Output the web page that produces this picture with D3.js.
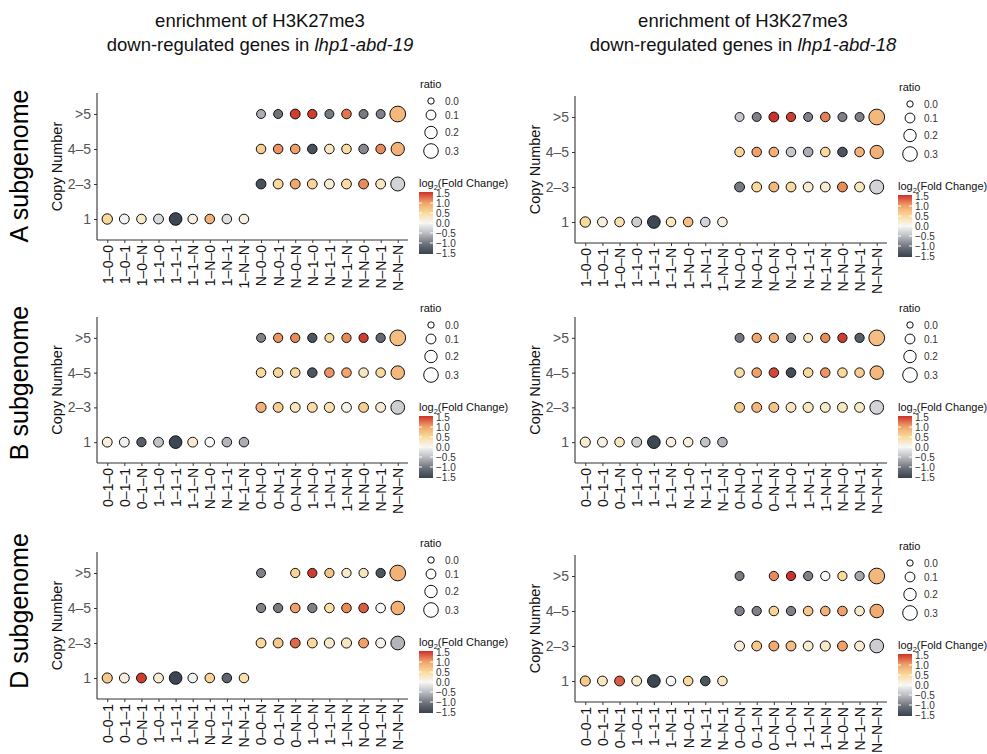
<!DOCTYPE html>
<html>
<head>
<meta charset="utf-8">
<script src="https://cdn.jsdelivr.net/npm/d3@7"></script>
<style>
  html, body { margin: 0; padding: 0; background: #fff; }
  svg { display: block; font-family: "Liberation Sans", Arial, Helvetica, sans-serif; }
</style>
</head>
<body>
<svg id="chart" width="987" height="754"></svg>
<script>
// ---------------- DATA ----------------
const rowLevels = ["1", "2–3", "4–5", ">5"];

const catsA = ["1–0–0","1–0–1","1–0–N","1–1–0","1–1–1","1–1–N","1–N–0","1–N–1","1–N–N",
               "N–0–0","N–0–1","N–0–N","N–1–0","N–1–1","N–1–N","N–N–0","N–N–1","N–N–N"];
const catsB = ["0–1–0","0–1–1","0–1–N","1–1–0","1–1–1","1–1–N","N–1–0","N–1–1","N–1–N",
               "0–N–0","0–N–1","0–N–N","1–N–0","1–N–1","1–N–N","N–N–0","N–N–1","N–N–N"];
const catsD = ["0–0–1","0–1–1","0–N–1","1–0–1","1–1–1","1–N–1","N–0–1","N–1–1","N–N–1",
               "0–0–N","0–1–N","0–N–N","1–0–N","1–1–N","1–N–N","N–0–N","N–1–N","N–N–N"];

// log2(Fold Change) per row: [copy number 1 (first 9 categories)], [2–3], [4–5], [>5] (last 9 categories)
const fcA19 = [
  [0.5, -0.05, 0.25, -0.25, -1.45, 0.1, 0.85, -0.2, 0.12],
  [-1.35, 0.5, 0.95, 0.55, 0.2, 0.45, 1.1, 0.3, -0.3],
  [0.6, 1.05, 1.0, -1.35, 0.3, 0.45, -0.85, 1.1, 0.85],
  [-0.6, -1.0, 1.45, 1.45, -0.95, 1.2, -0.95, -0.9, 0.8]
];
const fcA18 = [
  [0.5, 0.15, 0.4, -0.35, -1.45, 0.3, 0.75, -0.3, 0.12],
  [-0.95, 0.5, 0.8, 0.5, 0.2, 0.2, 1.1, 0.3, -0.3],
  [0.55, 1.0, 0.85, -0.4, -0.6, 0.5, -1.3, 0.85, 0.85],
  [-0.4, -0.9, 1.5, 1.45, -0.9, 1.15, -0.9, -0.9, 0.8]
];
const fcB19 = [
  [0.15, -0.05, -1.2, -0.45, -1.45, 0.2, 0.0, -0.55, -0.6],
  [0.85, 0.6, 0.3, 0.45, 0.4, 0.08, 0.6, 0.2, -0.35],
  [0.5, 0.55, 0.5, -1.3, 1.05, 0.95, 0.3, 0.5, 0.8],
  [-0.9, 1.05, 1.1, -1.3, 0.5, 1.1, 1.45, -1.1, 0.75]
];
const fcB18 = [
  [0.2, 0.12, 0.3, -0.35, -1.45, 0.12, 0.15, -0.45, -0.55],
  [0.65, 0.8, 0.7, 0.3, 0.3, 0.25, 0.3, 0.25, -0.3],
  [0.45, 1.0, 1.4, -1.4, 0.5, 1.05, 0.5, 0.6, 0.8],
  [-0.95, 0.95, 0.9, -0.9, 0.3, 1.1, 1.45, -1.2, 0.75]
];
const fcD19 = [
  [0.65, 0.15, 1.45, 0.2, -1.45, -0.05, 0.55, -1.15, 0.4],
  [0.5, 0.65, 1.25, 0.5, 0.25, 0.3, 1.0, 0.08, -0.55],
  [-0.9, -0.95, 1.0, -0.9, 0.45, 1.1, 1.3, 0.0, 0.85],
  [-0.9, null, 0.55, 1.45, 0.7, 0.25, 0.3, -1.3, 0.85]
];
const fcD18 = [
  [0.65, 0.3, 1.3, 0.25, -1.45, 0.0, 0.5, -1.3, 0.3],
  [0.2, 0.65, 0.9, 0.75, 0.2, 0.25, 1.0, 0.2, -0.35],
  [-0.9, -0.9, 0.55, -0.9, 0.65, 0.85, 1.0, 0.25, 0.9],
  [-0.95, null, 1.1, 1.5, -0.9, 0.0, 0.5, -0.65, 0.8]
];

// ratio per row (same layout)
const ratioA19 = [
  [0.12, 0.1, 0.09, 0.1, 0.21, 0.09, 0.09, 0.09, 0.09],
  [0.1, 0.1, 0.1, 0.1, 0.1, 0.1, 0.1, 0.1, 0.27],
  [0.09, 0.09, 0.09, 0.09, 0.09, 0.09, 0.09, 0.09, 0.24],
  [0.07, 0.07, 0.1, 0.08, 0.07, 0.09, 0.07, 0.07, 0.36]
];
const ratioA18 = [
  [0.12, 0.1, 0.09, 0.1, 0.21, 0.09, 0.09, 0.09, 0.09],
  [0.1, 0.1, 0.1, 0.1, 0.1, 0.1, 0.1, 0.1, 0.27],
  [0.09, 0.09, 0.09, 0.09, 0.09, 0.09, 0.09, 0.09, 0.24],
  [0.07, 0.07, 0.1, 0.08, 0.07, 0.09, 0.07, 0.07, 0.36]
];
const ratioB19 = [
  [0.1, 0.1, 0.08, 0.1, 0.21, 0.1, 0.09, 0.09, 0.09],
  [0.11, 0.1, 0.1, 0.1, 0.11, 0.1, 0.1, 0.1, 0.26],
  [0.09, 0.09, 0.09, 0.09, 0.09, 0.09, 0.09, 0.09, 0.25],
  [0.07, 0.08, 0.08, 0.08, 0.07, 0.08, 0.08, 0.08, 0.36]
];
const ratioB18 = [
  [0.11, 0.1, 0.09, 0.1, 0.21, 0.09, 0.09, 0.09, 0.09],
  [0.1, 0.1, 0.1, 0.1, 0.11, 0.1, 0.1, 0.1, 0.26],
  [0.09, 0.09, 0.09, 0.09, 0.09, 0.09, 0.09, 0.09, 0.25],
  [0.07, 0.08, 0.08, 0.08, 0.07, 0.08, 0.08, 0.08, 0.36]
];
const ratioD19 = [
  [0.11, 0.1, 0.1, 0.1, 0.21, 0.09, 0.09, 0.09, 0.09],
  [0.1, 0.1, 0.1, 0.1, 0.11, 0.11, 0.1, 0.1, 0.26],
  [0.08, 0.08, 0.09, 0.08, 0.09, 0.09, 0.09, 0.09, 0.25],
  [0.07, null, 0.08, 0.08, 0.08, 0.08, 0.08, 0.08, 0.36]
];
const ratioD18 = [
  [0.11, 0.1, 0.1, 0.1, 0.21, 0.09, 0.09, 0.09, 0.09],
  [0.1, 0.1, 0.1, 0.1, 0.1, 0.11, 0.1, 0.1, 0.26],
  [0.08, 0.08, 0.09, 0.08, 0.09, 0.09, 0.09, 0.09, 0.25],
  [0.07, null, 0.08, 0.08, 0.08, 0.08, 0.08, 0.08, 0.36]
];

const sizeBreaks = [0.0, 0.1, 0.2, 0.3];
const colorBreaks = [1.5, 1.0, 0.5, 0.0, -0.5, -1.0, -1.5];
const subgenomeLabels = ["A subgenome", "B subgenome", "D subgenome"];
const titleLine1 = "enrichment of H3K27me3";
const titleLine2 = "down-regulated genes in ";
const titleLines2Italic = ["lhp1-abd-19", "lhp1-abd-18"];

// ---------------- SCALES ----------------
const color = d3.scaleLinear()
  .domain([-1.5, -1, -0.5, 0, 0.5, 1, 1.5])
  .range(["#37414f", "#6f737a", "#b9bcc1", "#f7f7f7", "#f9da9a", "#f0a068", "#cc3129"])
  .interpolate(d3.interpolateRgb)
  .clamp(true);

const area = d3.scaleLinear().domain([0, 0.3]).range([13.7, 60.8]);
const radius = v => Math.sqrt(area(v)) - 0.5;

// ---------------- LAYOUT ----------------
const panels = [
  { cats: catsA, fc: fcA19, ratio: ratioA19, x0: 97,  x1: 408, y0: 93,  y1: 240 },
  { cats: catsA, fc: fcA18, ratio: ratioA18, x0: 575, x1: 887, y0: 96,  y1: 243 },
  { cats: catsB, fc: fcB19, ratio: ratioB19, x0: 97,  x1: 408, y0: 317, y1: 463 },
  { cats: catsB, fc: fcB18, ratio: ratioB18, x0: 575, x1: 887, y0: 317, y1: 463 },
  { cats: catsD, fc: fcD19, ratio: ratioD19, x0: 97,  x1: 408, y0: 552, y1: 699 },
  { cats: catsD, fc: fcD18, ratio: ratioD18, x0: 575, x1: 887, y0: 555, y1: 702 }
];

const svg = d3.select("#chart");
svg.append("rect").attr("width", 987).attr("height", 754).attr("fill", "#fff");

// gradient for colour bar
const defs = svg.append("defs");
const grad = defs.append("linearGradient").attr("id", "fcgrad")
  .attr("x1", 0).attr("y1", 1).attr("x2", 0).attr("y2", 0);
d3.range(0, 1.0001, 0.05).forEach(t => {
  grad.append("stop").attr("offset", t).attr("stop-color", color(-1.5 + 3 * t));
});

// titles
[260, 743].forEach((cx, i) => {
  const t = svg.append("text").attr("x", cx).attr("text-anchor", "middle")
    .attr("font-size", 18.5).attr("fill", "#111");
  t.append("tspan").attr("x", cx).attr("y", 27).text(titleLine1);
  t.append("tspan").attr("x", cx).attr("y", 51).text(titleLine2);
  t.append("tspan").attr("font-style", "italic").text(titleLines2Italic[i]);
});

// subgenome labels
[166, 383, 611].forEach((cy, i) => {
  svg.append("text")
    .attr("transform", `translate(28,${cy}) rotate(-90)`)
    .attr("text-anchor", "middle")
    .attr("font-size", 25).attr("fill", "#000")
    .text(subgenomeLabels[i]);
});

panels.forEach(p => {
  const g = svg.append("g");
  const x = d3.scalePoint().domain(p.cats).range([p.x0, p.x1]).padding(0.6);
  const y = d3.scalePoint().domain(rowLevels).range([p.y1, p.y0]).padding(0.6);

  // points
  const pts = [];
  p.fc.forEach((row, ri) => {
    row.forEach((v, ci) => {
      if (v === null || p.ratio[ri][ci] === null) return;
      const cat = ri === 0 ? p.cats[ci] : p.cats[9 + ci];
      pts.push({ cat, row: rowLevels[ri], fc: v, ratio: p.ratio[ri][ci] });
    });
  });

  // axes
  const yAxis = g.append("g").attr("transform", `translate(${p.x0},0)`)
    .call(d3.axisLeft(y).tickSize(3).tickSizeOuter(0).tickPadding(3));
  yAxis.select(".domain").attr("stroke", "#333").attr("stroke-width", 1.1)
    .attr("d", `M0,${p.y0}V${p.y1}`);
  yAxis.selectAll(".tick line").attr("stroke", "#333").attr("stroke-width", 1);
  yAxis.selectAll(".tick text").attr("font-size", 14).attr("fill", "#555")
    .attr("font-family", "'Liberation Sans', Arial, sans-serif");

  const xAxis = g.append("g").attr("transform", `translate(0,${p.y1})`)
    .call(d3.axisBottom(x).tickSize(3).tickSizeOuter(0));
  xAxis.select(".domain").attr("stroke", "#333").attr("stroke-width", 1.1)
    .attr("d", `M${p.x0},0H${p.x1}`);
  xAxis.selectAll(".tick line").attr("stroke", "#333").attr("stroke-width", 1);
  xAxis.selectAll(".tick text")
    .attr("font-size", 14).attr("fill", "#111")
    .attr("font-family", "'Liberation Sans', Arial, sans-serif")
    .attr("transform", "rotate(-90)")
    .attr("text-anchor", "end")
    .attr("x", -5).attr("y", 0).attr("dy", "0.35em");

  // y title
  g.append("text")
    .attr("transform", `translate(${p.x0 - 35},${(p.y0 + p.y1) / 2}) rotate(-90)`)
    .attr("text-anchor", "middle").attr("font-size", 14.5).attr("fill", "#111")
    .text("Copy Number");

  g.selectAll("circle.pt").data(pts).join("circle")
    .attr("class", "pt")
    .attr("cx", d => x(d.cat))
    .attr("cy", d => y(d.row))
    .attr("r", d => radius(d.ratio))
    .attr("fill", d => color(d.fc))
    .attr("stroke", "#111").attr("stroke-width", 1);

  // size legend
  const lx = p.x1;
  g.append("text").attr("x", lx + 12).attr("y", p.y0 - 5)
    .attr("font-size", 11).attr("fill", "#111").text("ratio");
  const sizeOffsets = [8, 22, 39.5, 58];
  sizeBreaks.forEach((s, i) => {
    g.append("circle").attr("cx", lx + 23).attr("cy", p.y0 + sizeOffsets[i])
      .attr("r", radius(s)).attr("fill", "#fff").attr("stroke", "#111").attr("stroke-width", 1);
    g.append("text").attr("x", lx + 37).attr("y", p.y0 + sizeOffsets[i])
      .attr("dy", "0.35em").attr("font-size", 10).attr("fill", "#333").text(s.toFixed(1));
  });

  // colour legend
  const ct = g.append("text").attr("x", lx + 11).attr("y", p.y0 + 94)
    .attr("font-size", 11).attr("fill", "#111");
  ct.append("tspan").text("log");
  ct.append("tspan").attr("font-size", 7.5).attr("dy", 3).text("2");
  ct.append("tspan").attr("dy", -3).text("(Fold Change)");

  const barTop = p.y0 + 99, barBot = p.y0 + 161;
  const cb = d3.scaleLinear().domain([-1.5, 1.5]).range([barBot - 1, barTop + 1]);
  g.append("rect").attr("x", lx + 11).attr("y", barTop).attr("width", 14)
    .attr("height", barBot - barTop).attr("fill", "url(#fcgrad)");
  colorBreaks.forEach(b => {
    if (Math.abs(b) < 1.5) {
      g.append("line").attr("x1", lx + 11).attr("x2", lx + 14)
        .attr("y1", cb(b)).attr("y2", cb(b)).attr("stroke", "#fff").attr("stroke-width", 1);
      g.append("line").attr("x1", lx + 22).attr("x2", lx + 25)
        .attr("y1", cb(b)).attr("y2", cb(b)).attr("stroke", "#fff").attr("stroke-width", 1);
    }
    g.append("text").attr("x", lx + 28).attr("y", cb(b)).attr("dy", "0.35em")
      .attr("font-size", 10).attr("fill", "#333")
      .text(b < 0 ? "−" + Math.abs(b).toFixed(1) : b.toFixed(1));
  });
});
</script>
</body>
</html>
